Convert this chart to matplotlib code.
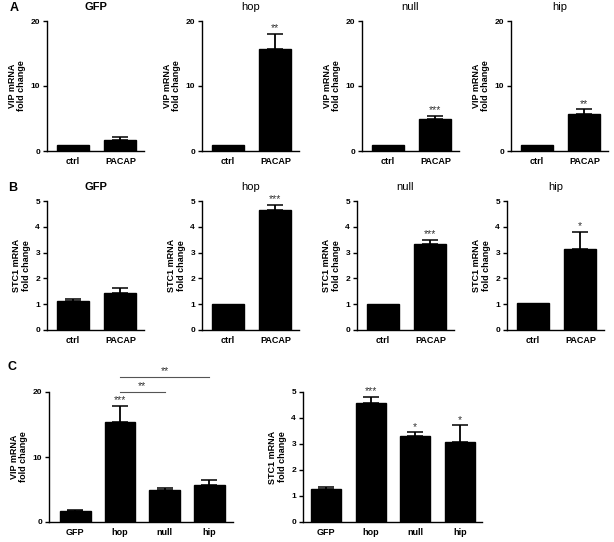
import matplotlib.pyplot as plt

plt.rcParams['font.family'] = ['Liberation Sans', 'DejaVu Sans']

# row A / B: ctrl vs PACAP for each construct
groups = ['GFP', 'hop', 'null', 'hip']
conds = ['ctrl', 'PACAP']

vip_mean = [[1.0, 1.74], [1.0, 15.7], [1.0, 4.9], [1.0, 5.7]]
vip_err = [[0.0, 0.35], [0.0, 2.3], [0.0, 0.45], [0.0, 0.7]]
vip_sig = ['', '**', '***', '**']

stc_mean = [[1.13, 1.44], [1.02, 4.64], [1.0, 3.35], [1.03, 3.15]]
stc_err = [[0.06, 0.18], [0.0, 0.22], [0.0, 0.15], [0.0, 0.65]]
stc_sig = ['', '***', '***', '*']

# row C: PACAP-treated comparison
c_vip_mean = [1.7, 15.4, 4.97, 5.64]
c_vip_err = [0.2, 2.5, 0.33, 0.76]
c_vip_sig = ['', '***', '', '']
c_stc_mean = [1.27, 4.58, 3.32, 3.08]
c_stc_err = [0.09, 0.23, 0.13, 0.64]
c_stc_sig = ['', '***', '*', '*']

W, H = 614, 542
fig = plt.figure(figsize=(W / 100, H / 100), dpi=100)


def px_axes(left, top, width, height):
    return fig.add_axes([left / W, 1 - (top + height) / H, width / W, height / H])


def style(ax, ymax, yticks, ylabel):
    ax.set_ylim(0, ymax)
    ax.set_yticks(yticks)
    for s in ['top', 'right']:
        ax.spines[s].set_visible(False)
    for s in ['left', 'bottom']:
        ax.spines[s].set_linewidth(1.0)
    ax.tick_params(axis='y', direction='out', length=3, width=1, labelsize=6, pad=2)
    ax.tick_params(axis='x', length=0, labelsize=6.5, pad=4)
    for lab in ax.get_yticklabels() + ax.get_xticklabels():
        lab.set_fontweight('bold')
    ax.set_ylabel(ylabel, fontsize=6.5, fontweight='bold', labelpad=3, linespacing=1.1)


def bars(ax, labels, mean, err, sig, width, ymax):
    x = list(range(len(labels)))
    ax.bar(x, mean, width=width, color='black', edgecolor='black')
    # only draw upper error bars where there is an error
    ex = [xi for xi, e in zip(x, err) if e > 0]
    em = [m for m, e in zip(mean, err) if e > 0]
    ee = [e for e in err if e > 0]
    if ex:
        ax.errorbar(ex, em, yerr=[[0] * len(ee), ee], fmt='none', ecolor='black',
                    elinewidth=1.3, capsize=6, capthick=1.1)
    ax.set_xticks(x)
    ax.set_xticklabels(labels)
    for xi, m, e, s in zip(x, mean, err, sig):
        if s:
            ax.text(xi, m + e + ymax * 0.005, s, ha='center', va='bottom', fontsize=7.5, color='#333333')


row_a_left = [47, 202, 362, 511]
row_b_left = [47, 202, 357, 507]

for i, g in enumerate(groups):
    ax = px_axes(row_a_left[i], 21, 97, 130)
    bars(ax, conds, vip_mean[i], vip_err[i], [''] + [vip_sig[i]], 0.67, 20)
    ax.set_xlim(-0.55, 1.5)
    style(ax, 20, [0, 10, 20], 'VIP mRNA\nfold change')
    ax.set_title(g, fontsize=8, fontweight='bold' if g == 'GFP' else 'normal', pad=8)

    ax = px_axes(row_b_left[i], 201, 97, 129)
    bars(ax, conds, stc_mean[i], stc_err[i], [''] + [stc_sig[i]], 0.67, 5)
    ax.set_xlim(-0.55, 1.5)
    style(ax, 5, [0, 1, 2, 3, 4, 5], 'STC1 mRNA\nfold change')
    ax.set_title(g, fontsize=8, fontweight='bold' if g == 'GFP' else 'normal', pad=8)

# row C
ax = px_axes(49, 392, 184, 130)
bars(ax, groups, c_vip_mean, c_vip_err, c_vip_sig, 0.69, 20)
ax.set_xlim(-0.59, 3.53)
style(ax, 20, [0, 10, 20], 'VIP mRNA\nfold change')
# comparison brackets hop vs null, hop vs hip
ax.plot([1, 2.0], [20.0, 20.0], color='#555555', lw=0.8, clip_on=False)
ax.text(1.5, 20.1, '**', ha='center', va='bottom', fontsize=7.5, color='#333333')
ax.plot([1, 3.0], [22.3, 22.3], color='#555555', lw=0.8, clip_on=False)
ax.text(2.0, 22.4, '**', ha='center', va='bottom', fontsize=7.5, color='#333333')

ax = px_axes(303, 392, 179, 130)
bars(ax, groups, c_stc_mean, c_stc_err, c_stc_sig, 0.67, 5)
ax.set_xlim(-0.52, 3.5)
style(ax, 5, [0, 1, 2, 3, 4, 5], 'STC1 mRNA\nfold change')

fig.text(10 / W, 1 - 8 / H, 'A', fontsize=9, fontweight='bold', va='center')
fig.text(8 / W, 1 - 188 / H, 'B', fontsize=9, fontweight='bold', va='center')
fig.text(8 / W, 1 - 367 / H, 'C', fontsize=9, fontweight='bold', va='center')

fig.savefig('out.png', dpi=100, facecolor='white')
